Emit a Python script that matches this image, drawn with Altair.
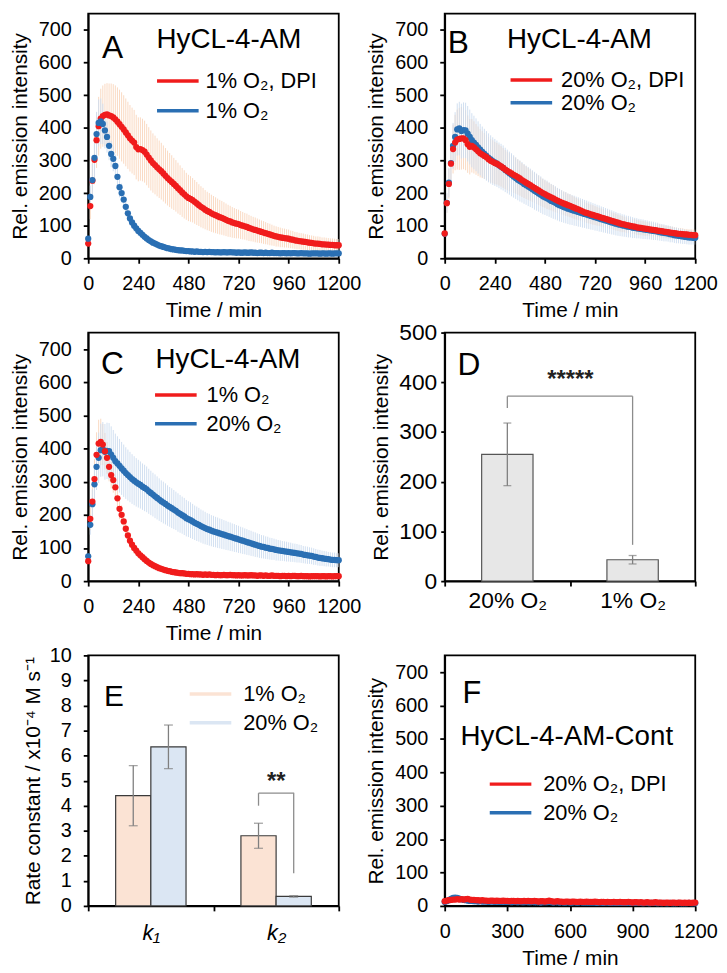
import altair as alt
import pandas as pd

FONT = "Liberation Sans"
RED = "#f01c1c"
BLUE = "#2a6fb3"
PALE_RED = "#f9d5bc"
PALE_BLUE = "#cddcef"
PEACH = "#fbe3d4"
ICE = "#dbe6f3"
LEG_PATH = "M-4.2,-0.35H4.2V0.35H-4.2Z"

# ---------------- data ----------------
TIME = list(range(0, 1201, 10))  # min

# 1% O2 (panel A blue, panel C red)
O1 = [60, 188, 240, 308, 381, 415, 420, 412, 392, 372,
      345, 320, 305, 283, 250, 218, 200, 180, 158, 138,
      122, 110, 100, 92, 84, 78, 72, 66, 61, 56,
      52, 48, 45, 42, 39, 37, 35, 33, 31, 30,
      28, 27, 26, 25, 24, 24, 23, 22, 22, 21,
      21, 20, 21, 20, 20, 19, 20, 19, 20, 19,
      19, 18, 19, 18, 18, 19, 18, 18, 19, 18,
      18, 17, 18, 17, 17, 18, 17, 17, 18, 17,
      17, 16, 17, 17, 16, 17, 16, 16, 17, 16,
      16, 16, 15, 16, 16, 15, 16, 15, 16, 16,
      15, 15, 16, 15, 15, 15, 14, 15, 15, 15,
      15, 14, 15, 15, 14, 15, 15, 14, 15, 15,
      15]
O1_SD = [8, 35, 50, 60, 68, 72, 70, 62, 55, 48,
         44, 40, 38, 35, 33, 31, 29, 27, 25, 23,
         21, 19, 18, 16, 15, 14, 13, 12, 11, 11,
         10, 10, 9, 9, 8, 8, 8, 7, 7, 7,
         6, 6, 6, 6, 6, 5, 5, 5, 5, 5,
         5, 5, 5, 5, 5, 5, 5, 5, 5, 5,
         5, 5, 5, 5, 5, 5, 5, 5, 5, 5,
         5, 5, 5, 5, 5, 5, 5, 5, 5, 5,
         4, 4, 4, 4, 4, 4, 4, 4, 4, 4,
         4, 4, 4, 4, 4, 4, 4, 4, 4, 4,
         4, 4, 4, 4, 4, 4, 4, 4, 4, 4,
         4, 4, 4, 4, 4, 4, 4, 4, 4, 4,
         4]

# 1% O2, DPI (panel A red)
DPI1 = [45, 160, 238, 302, 362, 405, 428, 436, 440, 441,
        438, 436, 432, 426, 419, 411, 403, 395, 386, 377,
        368, 361, 355, 341, 334, 335, 332, 327, 318, 309,
        300, 292, 286, 279, 273, 267, 260, 253, 246, 240,
        234, 228, 222, 215, 209, 202, 196, 190, 185, 182,
        178, 173, 168, 163, 158, 154, 149, 145, 142, 138,
        135, 132, 129, 126, 124, 121, 118, 115, 113, 110,
        108, 106, 105, 102, 100, 98, 96, 93, 91, 89,
        87, 85, 83, 81, 79, 77, 75, 73, 71, 69,
        67, 66, 64, 63, 62, 61, 60, 58, 57, 55,
        54, 53, 52, 51, 50, 49, 48, 47, 46, 45,
        45, 44, 43, 43, 42, 42, 41, 41, 40, 40,
        40]
DPI1_SD = [8, 40, 60, 75, 85, 90, 92, 94, 95, 96,
           98, 100, 102, 104, 105, 106, 106, 105, 104, 103,
           102, 101, 100, 99, 98, 97, 96, 95, 94, 93,
           92, 91, 90, 89, 88, 87, 86, 85, 84, 83,
           82, 80, 79, 78, 76, 75, 74, 72, 71, 70,
           68, 67, 66, 64, 63, 62, 60, 59, 58, 57,
           56, 55, 54, 53, 52, 51, 50, 49, 48, 47,
           46, 45, 44, 43, 42, 41, 41, 40, 39, 38,
           38, 37, 36, 35, 35, 34, 33, 33, 32, 31,
           31, 30, 30, 29, 29, 28, 28, 27, 27, 26,
           26, 25, 25, 25, 24, 24, 23, 23, 23, 22,
           22, 22, 21, 21, 21, 20, 20, 20, 20, 19,
           19]

# 20% O2, DPI (panel B red)
DPI20 = [76, 169, 228, 290, 335, 355, 364, 366, 368, 368,
         362, 350, 342, 345, 340, 334, 328, 322, 318, 314,
         310, 304, 299, 296, 292, 290, 286, 282, 277, 272,
         268, 264, 260, 256, 253, 249, 245, 240, 236, 232,
         228, 224, 220, 216, 212, 208, 204, 200, 197, 193,
         190, 187, 184, 180, 177, 174, 171, 168, 166, 163,
         161, 158, 155, 152, 150, 147, 144, 141, 139, 137,
         135, 133, 131, 129, 127, 125, 123, 121, 119, 117,
         115, 113, 111, 109, 107, 105, 104, 102, 101, 99,
         98, 97, 95, 94, 93, 92, 91, 90, 89, 88,
         87, 86, 85, 84, 83, 82, 81, 80, 79, 78,
         77, 76, 75, 75, 74, 73, 73, 72, 72, 71,
         71]
DPI20_SD = [8, 30, 45, 60, 75, 85, 92, 95, 96, 95,
            92, 88, 85, 82, 80, 78, 76, 74, 72, 70,
            69, 68, 67, 66, 65, 64, 63, 62, 61, 60,
            59, 58, 57, 56, 55, 54, 53, 52, 51, 50,
            49, 48, 47, 46, 46, 45, 44, 43, 42, 42,
            41, 40, 40, 39, 38, 38, 37, 36, 36, 35,
            35, 34, 34, 33, 33, 32, 32, 31, 31, 30,
            30, 30, 29, 29, 28, 28, 28, 27, 27, 27,
            26, 26, 26, 25, 25, 25, 24, 24, 24, 23,
            23, 23, 23, 22, 22, 22, 22, 21, 21, 21,
            21, 20, 20, 20, 20, 19, 19, 19, 19, 19,
            18, 18, 18, 18, 18, 17, 17, 17, 17, 17,
            17]

# 20% O2 (panel B blue, panel C blue)
O20 = [75, 170, 232, 292, 345, 372, 395, 398, 390, 393,
       392, 382, 372, 362, 355, 348, 340, 333, 326, 320,
       314, 308, 303, 298, 294, 290, 285, 281, 277, 271,
       266, 261, 256, 251, 246, 241, 237, 233, 228, 224,
       220, 216, 212, 207, 203, 199, 195, 190, 187, 184,
       180, 176, 173, 170, 166, 163, 160, 157, 155, 152,
       150, 148, 146, 144, 142, 140, 138, 136, 134, 132,
       130, 128, 126, 124, 122, 120, 118, 116, 114, 112,
       110, 108, 106, 104, 103, 101, 100, 98, 97, 96,
       94, 93, 92, 91, 90, 89, 88, 87, 86, 85,
       84, 83, 82, 80, 79, 78, 77, 76, 74, 73,
       71, 70, 69, 68, 67, 66, 65, 64, 64, 63,
       63]
O20_SD = [8, 30, 45, 60, 70, 76, 80, 82, 84, 85,
          85, 85, 84, 83, 82, 81, 80, 79, 78, 77,
          76, 75, 74, 73, 72, 71, 70, 70, 69, 68,
          67, 66, 66, 65, 64, 63, 63, 62, 61, 60,
          60, 59, 58, 58, 57, 56, 56, 55, 54, 54,
          53, 52, 52, 51, 50, 50, 49, 48, 48, 47,
          47, 46, 46, 45, 45, 44, 44, 43, 43, 42,
          42, 41, 41, 40, 40, 39, 39, 38, 38, 37,
          37, 36, 36, 35, 35, 34, 34, 33, 33, 32,
          32, 31, 31, 30, 30, 30, 29, 29, 28, 28,
          28, 27, 27, 26, 26, 26, 25, 25, 25, 24,
          24, 24, 23, 23, 23, 22, 22, 22, 22, 21,
          21]

# HyCL-4-AM-Cont (panel F)
F_DPI = [14, 16, 17, 18, 19, 19, 20, 19, 20, 19,
         20, 21, 19, 18, 18, 17, 17, 16, 17, 16,
         16, 15, 16, 16, 15, 16, 15, 15, 16, 15,
         15, 14, 15, 15, 14, 15, 14, 14, 15, 14,
         15, 14, 14, 15, 14, 13, 14, 14, 13, 14,
         16, 14, 13, 13, 14, 13, 13, 12, 13, 13,
         12, 13, 13, 12, 12, 13, 12, 12, 13, 12,
         12, 12, 13, 12, 11, 12, 12, 11, 12, 11,
         11, 12, 11, 11, 12, 11, 11, 11, 12, 11,
         10, 11, 11, 10, 11, 10, 10, 11, 10, 10,
         10, 11, 10, 10, 10, 9, 10, 10, 9, 10,
         10, 9, 10, 10, 9, 10, 9, 10, 9, 10,
         10]
F_CTRL = [12, 14, 17, 21, 24, 25, 24, 22, 20, 18,
          17, 16, 15, 15, 14, 14, 13, 14, 13, 13,
          13, 12, 13, 13, 12, 13, 12, 12, 13, 12,
          12, 12, 11, 12, 12, 11, 12, 11, 11, 12,
          11, 11, 12, 11, 11, 11, 10, 11, 11, 11,
          12, 11, 10, 11, 11, 10, 11, 10, 10, 11,
          10, 10, 11, 10, 10, 11, 10, 10, 10, 10,
          10, 10, 10, 9, 10, 10, 9, 10, 10, 9,
          9, 10, 9, 9, 10, 9, 9, 9, 10, 9,
          9, 9, 9, 9, 9, 8, 9, 9, 8, 9,
          9, 9, 8, 9, 8, 9, 8, 8, 9, 8,
          8, 8, 9, 8, 8, 8, 8, 9, 8, 8,
          8]

# Panel D
D_CATS = ["20% O₂", "1% O₂"]
D_VALS = [255, 43]
D_ERR = [63, 8.5]
D_BRACKET_Y = [348, 372, 73]
D_STAR_Y = 404

# Panel E
E_PARAMS = ["k₁", "k₂"]
E_CONDS = ["1% O₂", "20% O₂"]
E_VALS = {"1% O₂": [4.4, 2.8], "20% O₂": [6.35, 0.38]}
E_ERR = {"1% O₂": [1.2, 0.5], "20% O₂": [0.87, 0.03]}
E_BRACKET_Y = [4.0, 4.5, 1.3]
E_STAR_Y = 4.95

TIME_TICKS = [0, 240, 480, 720, 960, 1200]
F_TIME_TICKS = [0, 300, 600, 900, 1200]
INT_TICKS = [0, 100, 200, 300, 400, 500, 600, 700]
D_TICKS = [0, 100, 200, 300, 400, 500]
E_TICKS = [0, 1, 2, 3, 4, 5, 6, 7, 8, 9, 10]

W = 253


def legend(x, y, row_pad, label_off):
    return alt.Legend(orient="none", legendX=x, legendY=y, title=None,
                      symbolType=LEG_PATH, symbolSize=100, symbolOffset=10.5,
                      labelOffset=label_off, labelFontSize=22, rowPadding=row_pad,
                      padding=0, symbolStrokeWidth=0, symbolOpacity=1)


def texts_layers(texts):
    out = []
    for txt, px, py, fs in texts:
        out.append(alt.Chart(pd.DataFrame({"s": [txt]})).mark_text(
            x=px, y=py, fontSize=fs, align="left", baseline="alphabetic",
            font=FONT, color="black").encode(text="s:N"))
    return out


def curve_panel(series, xticks, height, leg, texts, show_err=True):
    xs = alt.Scale(domain=[0, 1200], nice=False)
    ys = alt.Scale(domain=[0, 750], nice=False)
    xax = alt.Axis(values=xticks, title="Time / min", labelPadding=11, format="d",
                   titlePadding=6, labelFlush=False, labelOverlap=False,
                   titleFontWeight="normal")
    yax = alt.Axis(values=INT_TICKS, title="Rel. emission intensity", format="d",
                   labelPadding=12, titlePadding=8, titleFontWeight="normal")
    layers = []
    if show_err:
        for s in series:
            df = pd.DataFrame({"t": TIME,
                               "lo": [v - e for v, e in zip(s["v"], s["sd"])],
                               "hi": [v + e for v, e in zip(s["v"], s["sd"])]})
            layers.append(alt.Chart(df).mark_rule(
                color=s["pale"], strokeWidth=1, opacity=0.9, clip=True).encode(
                x=alt.X("t:Q", scale=xs, axis=xax),
                y=alt.Y("lo:Q", scale=ys, axis=yax), y2="hi:Q"))
    pts = pd.concat([pd.DataFrame({"t": TIME, "v": s["v"], "series": s["name"],
                                   "z": s["z"]}) for s in series])
    names = [s["name"] for s in series]
    cols = [s["color"] for s in series]
    layers.append(alt.Chart(pts).mark_circle(size=40, opacity=1).encode(
        x=alt.X("t:Q", scale=xs, axis=xax),
        y=alt.Y("v:Q", scale=ys, axis=yax),
        color=alt.Color("series:N", scale=alt.Scale(domain=names, range=cols),
                        legend=leg),
        order=alt.Order("z:Q")))
    layers += texts_layers(texts)
    return alt.layer(*layers).properties(width=W, height=height)


A = curve_panel(
    [dict(name="1% O₂, DPI", v=DPI1, sd=DPI1_SD, color=RED, pale=PALE_RED, z=0),
     dict(name="1% O₂", v=O1, sd=O1_SD, color=BLUE, pale=PALE_BLUE, z=1)],
    TIME_TICKS, 247, legend(69, 57, 8, 17),
    [("A", 14, 45, 32), ("HyCL-4-AM", 69, 35, 28)])

B = curve_panel(
    [dict(name="20% O₂, DPI", v=DPI20, sd=DPI20_SD, color=RED, pale=PALE_RED, z=1),
     dict(name="20% O₂", v=O20, sd=O20_SD, color=BLUE, pale=PALE_BLUE, z=0)],
    TIME_TICKS, 247, legend(66, 56, 1, 19),
    [("B", 3, 40, 32), ("HyCL-4-AM", 63, 35, 28)])

C = curve_panel(
    [dict(name="1% O₂", v=O1, sd=O1_SD, color=RED, pale=PALE_RED, z=1),
     dict(name="20% O₂", v=O20, sd=O20_SD, color=BLUE, pale=PALE_BLUE, z=0)],
    TIME_TICKS, 251, legend(67, 52, 7, 20),
    [("C", 13, 42, 32), ("HyCL-4-AM", 68, 36, 28)])

F = curve_panel(
    [dict(name="20% O₂, DPI", v=F_DPI, sd=[0] * len(F_DPI), color=RED, pale=PALE_RED, z=1),
     dict(name="20% O₂", v=F_CTRL, sd=[0] * len(F_CTRL), color=BLUE, pale=PALE_BLUE, z=0)],
    F_TIME_TICKS, 253, legend(45, 119, 7, 22),
    [("F", 18, 48, 31), ("HyCL-4-AM-Cont", 16, 91, 28)], show_err=False)

# ---------- panel D ----------
d_df = pd.DataFrame({"cond": D_CATS, "v": D_VALS,
                     "lo": [v - e for v, e in zip(D_VALS, D_ERR)],
                     "hi": [v + e for v, e in zip(D_VALS, D_ERR)]})
d_xscale = alt.Scale(domain=D_CATS, paddingInner=0, paddingOuter=0)
d_xaxis = alt.Axis(title=None, labelAngle=0, tickBand="extent", labelFontSize=23,
                   labelPadding=4)
d_yscale = alt.Scale(domain=[0, 500], nice=False)
d_yaxis = alt.Axis(values=D_TICKS, title="Rel. emission intensity", labelOverlap=False,
                   labelFontSize=23, labelPadding=4, tickSize=4, titlePadding=7,
                   titleFontWeight="normal")


def dx(f="cond"):
    return alt.X(f + ":N", sort=None, scale=d_xscale, axis=d_xaxis)


def dy(f):
    return alt.Y(f + ":Q", scale=d_yscale, axis=d_yaxis)


d_bars = alt.Chart(d_df).mark_bar(width=alt.RelativeBandSize(0.41), fill="#e7e7e7",
                                  stroke="#555555", strokeWidth=1.2).encode(x=dx(), y=dy("v"))
d_err = alt.Chart(d_df).mark_rule(color="#7f7f7f", strokeWidth=1.3).encode(
    x=dx(), y=dy("lo"), y2="hi:Q")
d_cap1 = alt.Chart(d_df).mark_tick(color="#7f7f7f", size=8, thickness=1.3).encode(
    x=dx(), y=dy("lo"))
d_cap2 = alt.Chart(d_df).mark_tick(color="#7f7f7f", size=8, thickness=1.3).encode(
    x=dx(), y=dy("hi"))
br_df = pd.DataFrame({"a": [D_CATS[0], D_CATS[0], D_CATS[1]],
                      "b": [D_CATS[0], D_CATS[1], D_CATS[1]],
                      "y": [D_BRACKET_Y[0], D_BRACKET_Y[1], D_BRACKET_Y[1]],
                      "y2": [D_BRACKET_Y[1], D_BRACKET_Y[1], D_BRACKET_Y[2]]})
d_br = alt.Chart(br_df).mark_rule(color="#8c8c8c", strokeWidth=1.3).encode(
    x=dx("a"), x2="b:N", y=dy("y"), y2="y2:Q")
d_star = alt.Chart(pd.DataFrame({"s": ["*****"]})).mark_text(
    x=127, fontSize=24, font=FONT, fontWeight="bold", color="#222222",
    baseline="middle").encode(text="s:N", y=alt.datum(D_STAR_Y))
D = alt.layer(d_bars, d_err, d_cap1, d_cap2, d_br, d_star,
              *texts_layers([("D", 13, 43, 32)])).properties(width=W, height=251)

# ---------- panel E ----------
rows = []
for c in E_CONDS:
    for p, v, e in zip(E_PARAMS, E_VALS[c], E_ERR[c]):
        rows.append({"param": p, "cond": c, "v": v, "lo": v - e, "hi": v + e})
e_df = pd.DataFrame(rows)
e_xscale = alt.Scale(domain=E_PARAMS, paddingInner=0, paddingOuter=0)
e_xaxis = alt.Axis(title=None, labelAngle=0, tickBand="extent", labelFontSize=22,
                   labelFontStyle="italic", labelPadding=12)
e_oscale = alt.Scale(domain=E_CONDS, paddingInner=0, paddingOuter=0.78)
e_yscale = alt.Scale(domain=[0, 10], nice=False)
e_yaxis = alt.Axis(values=E_TICKS, labelOverlap=False, tickCount=11,
                   title="Rate constant / x10⁻⁴ M s⁻¹", titleFontWeight="normal",
                   labelPadding=12, titlePadding=6)


def ex():
    return alt.X("param:N", sort=None, scale=e_xscale, axis=e_xaxis)


def eo():
    return alt.XOffset("cond:N", sort=None, scale=e_oscale)


def ey(f):
    return alt.Y(f + ":Q", scale=e_yscale, axis=e_yaxis)


e_bars = alt.Chart(e_df).mark_bar(stroke="#3a3a3a", strokeWidth=1.2).encode(
    x=ex(), xOffset=eo(), y=ey("v"),
    color=alt.Color("cond:N", scale=alt.Scale(domain=E_CONDS, range=[PEACH, ICE]),
                    legend=legend(102, 28, 7, 22)))
e_err = alt.Chart(e_df).mark_rule(color="#7f7f7f", strokeWidth=1.3).encode(
    x=ex(), xOffset=eo(), y=ey("lo"), y2="hi:Q")
e_cap1 = alt.Chart(e_df).mark_tick(color="#7f7f7f", size=9, thickness=1.3).encode(
    x=ex(), xOffset=eo(), y=ey("lo"))
e_cap2 = alt.Chart(e_df).mark_tick(color="#7f7f7f", size=9, thickness=1.3).encode(
    x=ex(), xOffset=eo(), y=ey("hi"))
ebr_df = pd.DataFrame({"param": [E_PARAMS[1], E_PARAMS[1]], "cond": E_CONDS,
                       "y": [E_BRACKET_Y[0], E_BRACKET_Y[1]],
                       "y2": [E_BRACKET_Y[1], E_BRACKET_Y[2]]})
e_brv = alt.Chart(ebr_df).mark_rule(color="#8c8c8c", strokeWidth=1.3).encode(
    x=ex(), xOffset=eo(), y=ey("y"), y2="y2:Q")
e_brh = alt.Chart(pd.DataFrame({"s": [1]})).mark_rule(color="#8c8c8c", strokeWidth=1.3).encode(
    x=alt.value(172), x2=alt.value(208), y=alt.datum(E_BRACKET_Y[1]))
e_star = alt.Chart(pd.DataFrame({"s": ["**"]})).mark_text(
    x=190, fontSize=24, font=FONT, fontWeight="bold", color="#222222",
    baseline="middle").encode(text="s:N", y=alt.datum(E_STAR_Y))
E = alt.layer(e_bars, e_err, e_cap1, e_cap2, e_brv, e_brh, e_star,
              *texts_layers([("E", 16, 51, 30)])).properties(width=W, height=253)

chart = alt.concat(A, B, C, D, E, F, columns=2,
                   spacing=alt.RowColnumber(row=75, column=107),
                   bounds="flush").resolve_scale(
    color="independent", x="independent", y="independent").resolve_legend(
    color="independent").properties(padding=0).configure_axis(
    labelFont=FONT, titleFont=FONT, labelColor="black", titleColor="black",
    domainColor="black", tickColor="black", domainWidth=1.8, tickWidth=1.8,
    tickSize=5, grid=False, titleFontWeight="normal", labelFontSize=20,
    titleFontSize=21).configure_legend(
    labelFont=FONT, labelColor="black").configure_view(
    stroke="black", strokeWidth=1.8).configure_text(font=FONT)

chart.save("out.html", embed_options={"renderer": "svg", "actions": False})
